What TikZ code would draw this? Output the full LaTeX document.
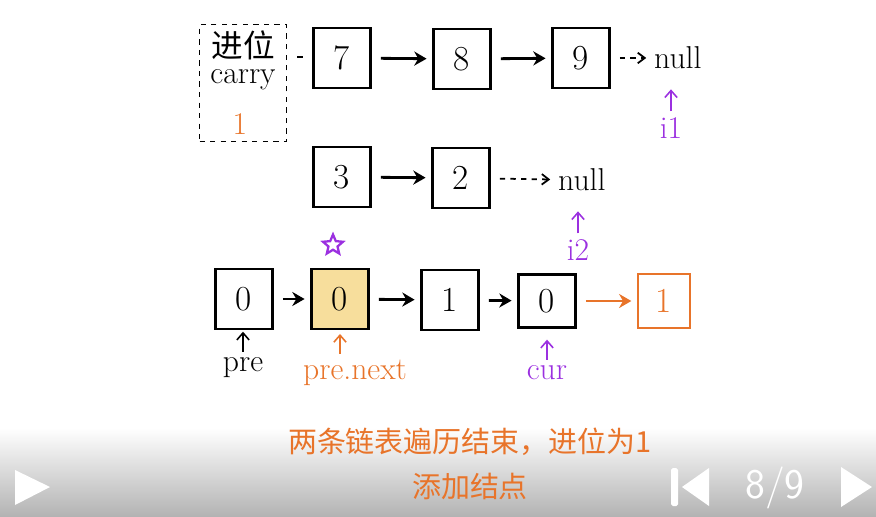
\documentclass[tikz,border=0pt]{standalone}
\usepackage{fontspec}
\newfontfamily\cjk{Noto Sans CJK SC}
\usetikzlibrary{shapes.geometric,arrows.meta,positioning,calc}
\definecolor{hdorange}{HTML}{E8742A}
\definecolor{hdpurple}{HTML}{9B30E0}
\definecolor{hdyellow}{HTML}{F7DE9C}
\tikzset{
  cell/.style={draw,line width=1.6pt,minimum width=1.15cm,minimum height=1.2cm,
    font=\fontsize{20}{20}\selectfont},
  link/.style={-{Stealth[length=7pt,width=8pt]},line width=1.6pt,shorten <=5pt,shorten >=3pt},
  nullink/.style={-{Straight Barb[length=4pt,width=6pt]},dashed,line width=1pt,shorten <=5pt,shorten >=1pt},
  ptr/.style={-{Straight Barb[length=4pt,width=7pt]},line width=0.9pt},
  word/.style={font=\fontsize{18}{18}\selectfont},
}

\begin{document}
\begin{tikzpicture}[x=0.02cm,y=-0.02cm]
        \useasboundingbox (0,0) rectangle (876,517);
        % carry box
        \node[draw,dashed,line width=1pt,minimum width=1.74cm,minimum height=2.34cm] (carrybox) at (243,83) {};
        \node[word] (jinwei) at (243,45) {\cjk 进位};
        \node[word] (carry) at (243,80) {carry};
        \node[word,text=hdorange] (carryval) at (240,124) {1};
        \draw[line width=1pt] (297,57) -- (303,57);
        % list 1
        \node[cell] (n7) at (342,58) {7};
        \node[cell] (n8) at (462,59) {8};
        \node[cell] (n9) at (581,58) {9};
        \node[word,anchor=west] (nullA) at (648,58) {null};
        \draw[link] (n7) -- (n8);
        \draw[link] (n8) -- (n9);
        \draw[nullink] (n9) -- (nullA);
        \node[word,text=hdpurple] (iA) at (671,128) {i1};
        \draw[ptr,hdpurple] (iA.north) -- ++(0,-22);
        % list 2
        \node[cell] (n3) at (342,177) {3};
        \node[cell] (n2) at (461,178) {2};
        \node[word,anchor=west] (nullB) at (552,180) {null};
        \draw[link] (n3) -- (n2);
        \draw[nullink] (n2) -- (nullB);
        \node[word,text=hdpurple] (iB) at (578,250) {i2};
        \draw[ptr,hdpurple] (iB.north) -- ++(0,-22);
        % result list
        \node[star,star points=5,star point ratio=2.2,draw=hdpurple,line width=1.3pt,minimum size=0.42cm,inner sep=0pt] (mark) at (333,245) {};
        \node[cell] (r0) at (244,299) {0};
        \node[cell,fill=hdyellow] (r1) at (340,299) {0};
        \node[cell] (r2) at (450,300) {1};
        \node[cell,minimum height=1.05cm] (r3) at (547,301) {0};
        \node[cell,draw=hdorange,text=hdorange,line width=1.3pt,minimum width=1.05cm,minimum height=1.08cm] (r4) at (664,301) {1};
        \draw[link] (r0) -- (r1);
        \draw[link] (r1) -- (r2);
        \draw[link] (r2) -- (r3);
        \draw[link,hdorange] (r3) -- (r4);
        % pointers
        \node[word] (pre) at (243,368) {pre};
        \draw[ptr] (pre.north) -- ++(0,-20);
        \node[word,text=hdorange] (prenext) at (355,373) {pre.next};
        \draw[ptr,hdorange] (prenext.north -| r1) -- ++(0,-20);
        \node[word,text=hdpurple] (cur) at (547,373) {cur};
        \draw[ptr,hdpurple] (cur.north) -- ++(0,-20);
        % player bar
        \shade[top color=white,bottom color=gray!60] (0,428) rectangle (876,517);
        \fill[white] (15,470) -- (15,505) -- (50,487) -- cycle;
        \fill[white,rounded corners=1pt] (671,468) rectangle (678,506);
        \fill[white] (709,468) -- (709,506) -- (682,487) -- cycle;
        \node[text=white,font=\sffamily\fontsize{24}{24}\selectfont] (page) at (775,488) {8/9};
        \fill[white] (841,467) -- (841,507) -- (872,487) -- cycle;
        % caption
        \node[text=hdorange,font=\cjk\fontsize{16.5}{16.5}\selectfont] (capA) at (470,442) {两条链表遍历结束，进位为1};
        \node[text=hdorange,font=\cjk\fontsize{16.5}{16.5}\selectfont] (capB) at (470,486) {添加结点};
      \end{tikzpicture}
\end{document}
